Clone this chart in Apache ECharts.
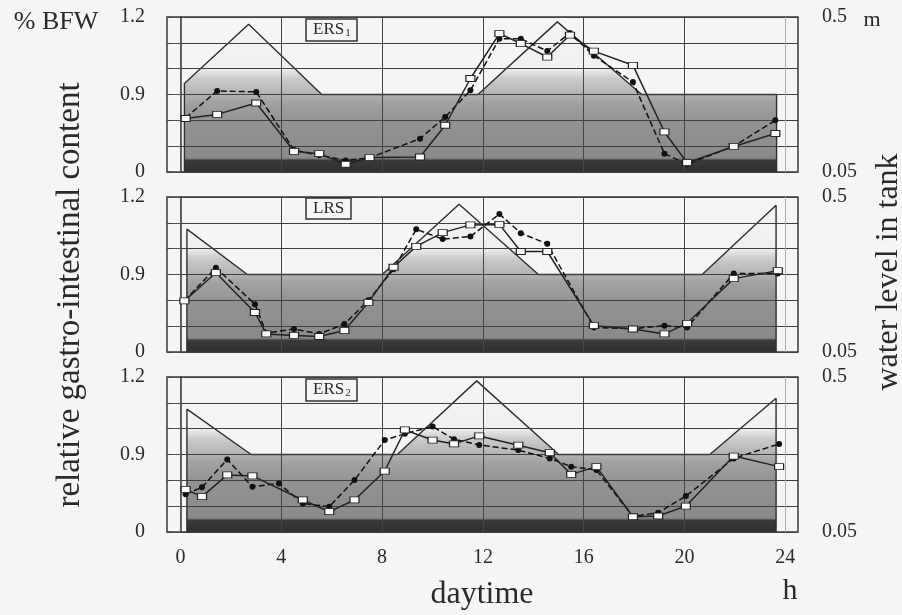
<!DOCTYPE html>
<html>
<head>
<meta charset="utf-8">
<script src="https://cdn.jsdelivr.net/npm/echarts@6/dist/echarts.min.js"></script>
<style>
html, body { margin: 0; padding: 0; background: #f5f5f5; }
#chart { width: 902px; height: 615px; }
</style>
</head>
<body>
<div id="chart"></div>
<script>
// left axis is drawn in grid steps (0..6), labelled 0 / 0.9 / 1.2 % BFW like the original
var leftTickLabels = ['0', '', '', '0.9', '', '', '1.2'];
var panelNames = ['ERS{s|1}', 'LRS', 'ERS{s|2}'];

// ERS1
var ers1Hours  = [0.2, 1.45, 3.0, 4.5, 5.5, 6.55, 7.5, 9.5, 10.5, 11.5, 12.65, 13.5, 14.55, 15.45, 16.4, 17.95, 19.2, 20.1, 21.95, 23.6];
var ers1Open   = [2.07, 2.23, 2.67, 0.80, 0.71, 0.30, 0.56, 0.58, 1.81, 3.62, 5.36, 4.97, 4.45, 5.3, 4.68, 4.13, 1.55, 0.36, 0.99, 1.49];
var ers1Filled = [2.1, 3.14, 3.10, 0.85, 0.65, 0.45, 0.55, 1.29, 2.13, 3.16, 5.16, 5.16, 4.68, 5.38, 4.5, 3.48, 0.71, 0.30, 1.0, 2.0];
var ers1LevelHours = [0.15, 0.15, 2.7, 5.6, 11.8, 14.95, 18.3, 23.65, 23.65];
var ers1Level      = [0.05, 0.186, 0.449, 0.158, 0.158, 0.465, 0.158, 0.158, 0.05];

// LRS
var lrsHours  = [0.15, 1.4, 2.95, 3.4, 4.5, 5.5, 6.5, 7.45, 8.45, 9.35, 10.4, 11.5, 12.65, 13.5, 14.55, 16.4, 17.95, 19.2, 20.1, 21.95, 23.7];
var lrsOpen   = [1.98, 3.07, 1.53, 0.70, 0.64, 0.60, 0.83, 1.92, 3.28, 4.09, 4.62, 4.92, 4.94, 3.89, 3.89, 1.02, 0.89, 0.70, 1.11, 2.84, 3.15];
var lrsFilled = [1.98, 3.26, 1.85, 0.73, 0.89, 0.70, 1.08, 2.0, 3.2, 4.75, 4.37, 4.47, 5.34, 4.6, 4.19, 0.95, 0.9, 1.02, 0.95, 3.04, 3.04];
var lrsLevelHours = [0.25, 0.25, 2.65, 8.0, 11.05, 14.2, 20.7, 23.63, 23.63];
var lrsLevel      = [0.05, 0.310, 0.158, 0.158, 0.449, 0.158, 0.158, 0.442, 0.05];

// ERS2
var ers2Hours  = [0.2, 0.85, 1.85, 2.85, 3.9, 4.85, 5.9, 6.9, 8.1, 8.9, 10.0, 10.85, 11.85, 13.4, 14.65, 15.5, 16.5, 17.95, 18.95, 20.05, 21.95, 23.75];
var ers2Open   = [1.65, 1.37, 2.21, 2.17, null, 1.24, 0.79, 1.24, 2.36, 3.95, 3.56, 3.41, 3.72, 3.36, 3.07, 2.23, 2.53, 0.59, 0.62, 1.0, 2.94, 2.53];
var ers2Filled = [1.46, 1.73, 2.81, 1.75, 1.88, 1.1, 0.98, 2.01, 3.56, 3.8, 4.08, 3.59, 3.37, 3.17, 2.85, 2.53, 2.4, 0.6, 0.75, 1.39, 2.85, 3.41];
var ers2LevelHours = [0.25, 0.25, 2.8, 8.6, 11.75, 15.0, 21.0, 23.63, 23.63];
var ers2Level      = [0.05, 0.310, 0.158, 0.158, 0.472, 0.158, 0.158, 0.365, 0.05];

var panels = [
  { hours: ers1Hours, open: ers1Open, filled: ers1Filled, levelHours: ers1LevelHours, level: ers1Level },
  { hours: lrsHours, open: lrsOpen, filled: lrsFilled, levelHours: lrsLevelHours, level: lrsLevel },
  { hours: ers2Hours, open: ers2Open, filled: ers2Filled, levelHours: ers2LevelHours, level: ers2Level }
];

var FONT = 'Liberation Serif';
var INK = '#2a2a2a';
var tops = [17, 197, 377];
var H = 155;

function pairs(xs, ys) {
  return xs.map(function (x, i) { return [x, ys[i]]; });
}

var chart = echarts.init(document.getElementById('chart'));
var grid = [], xAxis = [], yAxis = [], series = [], title = [];

panels.forEach(function (p, k) {
  // frame grid (carries the data) and inner grid for the hour lines
  grid.push({ left: 167, right: 104, top: tops[k], height: H, show: true,
    borderColor: '#383838', borderWidth: 1.5, backgroundColor: 'transparent' });
});
panels.forEach(function (p, k) {
  grid.push({ left: 180.5, right: 116.7, top: tops[k], height: H });
});

panels.forEach(function (p, k) {
  xAxis.push({ gridIndex: k, type: 'value', min: -0.54, max: 24.5, show: false });
});
panels.forEach(function (p, k) {
  xAxis.push({
    gridIndex: 3 + k, type: 'value', min: 0, max: 24, interval: 4,
    axisLine: { show: false }, axisTick: { show: false },
    axisLabel: { show: k === 2, fontFamily: FONT, fontSize: 20, color: INK, margin: 16 },
    splitLine: { show: true, lineStyle: { width: 1,
      color: ['#b0b0b0', '#454545', '#454545', '#454545', '#454545', '#454545', '#b0b0b0'] } }
  });
});

panels.forEach(function (p, k) {
  yAxis.push({
    gridIndex: k, type: 'value', min: 0, max: 6, interval: 1, position: 'left',
    axisLine: { show: true, lineStyle: { color: '#383838', width: 1.5 } },
    axisTick: { show: true, length: 10, lineStyle: { color: '#505050' } },
    axisLabel: { fontFamily: FONT, fontSize: 20, color: INK, margin: 22,
      formatter: function (v) { return leftTickLabels[Math.round(v)]; } },
    splitLine: { show: true, lineStyle: { color: '#404040', width: 1 } }
  });
  yAxis.push({
    gridIndex: k, type: 'log', logBase: 10, min: 0.05, max: 0.5, position: 'right',
    axisLine: { show: false }, axisTick: { show: false }, splitLine: { show: false },
    axisLabel: { fontFamily: FONT, fontSize: 20, color: INK, margin: 24,
      formatter: function (v) {
        if (Math.abs(v - 0.5) < 1e-4) return '0.5';
        if (Math.abs(v - 0.05) < 1e-5) return '0.05';
        return '';
      } }
  });
  yAxis.push({ gridIndex: 3 + k, type: 'value', min: 0, max: 6, show: false });

  // water level in tank, filled with the grey shading of the original (kept under the grid lines)
  var top = tops[k], bottom = tops[k] + H;
  series.push({
    type: 'line', xAxisIndex: k, yAxisIndex: 3 * k + 1,
    data: pairs(p.levelHours, p.level),
    symbol: 'none', silent: true, z: -1,
    lineStyle: { color: '#2e2e2e', width: 1.4 },
    areaStyle: {
      origin: 'start', opacity: 1,
      color: new echarts.graphic.LinearGradient(0, bottom, 0, top, [
        { offset: 0, color: '#2f2f2f' },
        { offset: 0.075, color: '#3a3a3a' },
        { offset: 0.09, color: '#8a8a8a' },
        { offset: 0.33, color: '#939393' },
        { offset: 0.45, color: '#a2a2a2' },
        { offset: 0.5, color: '#b2b2b2' },
        { offset: 0.6, color: '#cacaca' },
        { offset: 0.67, color: '#f0f0f0' },
        { offset: 1, color: '#f5f5f5' }
      ], true)
    }
  });
  series.push({
    type: 'line', xAxisIndex: k, yAxisIndex: 3 * k,
    data: pairs(p.hours, p.filled),
    symbol: 'circle', symbolSize: 6, z: 3,
    itemStyle: { color: '#111' },
    lineStyle: { color: '#111', width: 1.5, type: 'dashed' }
  });
  series.push({
    type: 'line', xAxisIndex: k, yAxisIndex: 3 * k,
    data: pairs(p.hours, p.open), connectNulls: true,
    symbol: 'rect', symbolSize: [9, 6], z: 4,
    itemStyle: { color: '#fafafa', borderColor: '#222', borderWidth: 1 },
    lineStyle: { color: '#222', width: 1.5 }
  });

  title.push({
    text: panelNames[k], left: 306, top: top + 1,
    padding: [2, 7, 2, 7], borderColor: '#333', borderWidth: 1.5,
    backgroundColor: '#f5f5f5',
    textStyle: { fontFamily: FONT, fontSize: 17, fontWeight: 'normal', color: INK,
      rich: { s: { fontFamily: FONT, fontSize: 11, color: INK, padding: [8, 0, 0, 1] } } }
  });
});

function label(text, x, y, size, rot) {
  return { type: 'text', x: x, y: y, rotation: rot || 0, z: 10,
    style: { text: text, align: 'center', verticalAlign: 'middle',
      fontFamily: FONT, fontSize: size, fill: INK } };
}

chart.setOption({
  backgroundColor: '#f5f5f5',
  animation: false,
  title: title,
  grid: grid,
  xAxis: xAxis,
  yAxis: yAxis,
  series: series,
  graphic: [
    label('% BFW', 56, 22, 26),
    label('m', 872, 20, 22),
    label('relative gastro-intestinal content', 70, 295, 33, Math.PI / 2),
    label('water level in tank', 889, 272, 32, Math.PI / 2),
    label('daytime', 482, 595, 32),
    label('h', 790, 591, 30)
  ]
});
</script>
</body>
</html>
